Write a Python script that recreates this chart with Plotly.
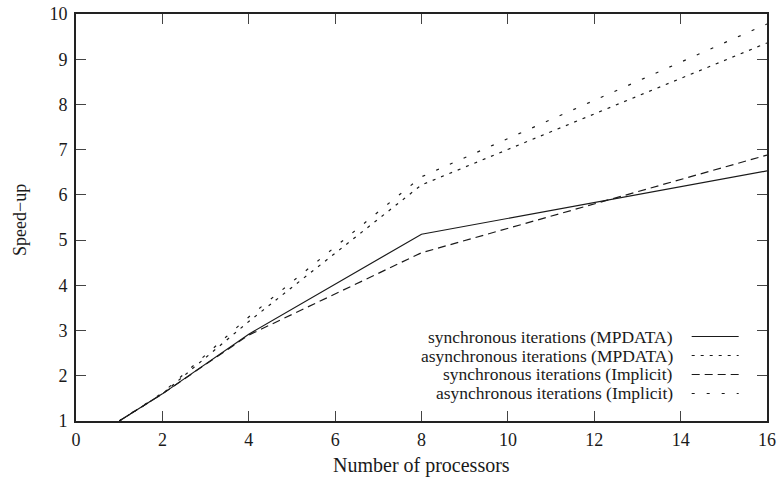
import plotly.graph_objects as go

processors = [1, 2, 4, 8, 16]
sync_mpdata = [1.0, 1.6, 2.92, 5.13, 6.53]
async_mpdata = [1.0, 1.6, 3.2, 6.22, 9.36]
sync_implicit = [1.0, 1.6, 2.9, 4.72, 6.88]
async_implicit = [1.0, 1.62, 3.3, 6.4, 9.78]

labels = [
    "synchronous iterations (MPDATA)",
    "asynchronous iterations (MPDATA)",
    "synchronous iterations (Implicit)",
    "asynchronous iterations (Implicit)",
]
series = [sync_mpdata, async_mpdata, sync_implicit, async_implicit]
dashes = ["solid", "3px,6px", "8px,5px", "3px,12px"]

FONT = "Liberation Serif, Times New Roman, serif"
INK = "#1a1a1a"

fig = go.Figure()
for lab, ys, d in zip(labels, series, dashes):
    fig.add_trace(go.Scatter(x=processors, y=ys, mode="lines", name=lab,
                             line=dict(color=INK, width=1.2, dash=d),
                             showlegend=False))

# manual gnuplot-style key: text right-aligned, sample on the right
rows_y = [0.2076, 0.1609, 0.1143, 0.0676]
for lab, d, ry in zip(labels, dashes, rows_y):
    fig.add_annotation(xref="paper", yref="paper", x=0.867, y=ry, text=lab,
                       showarrow=False, xanchor="right", yanchor="middle",
                       font=dict(family=FONT, size=17.5, color=INK))
    fig.add_shape(type="line", xref="paper", yref="paper",
                  x0=0.891, x1=0.959, y0=ry, y1=ry,
                  line=dict(color=INK, width=1.2, dash=d))

# axis titles
fig.add_annotation(xref="paper", yref="paper", x=0.5, y=-0.11, text="Number of processors",
                   showarrow=False, xanchor="center", yanchor="middle",
                   font=dict(family=FONT, size=20, color=INK))
fig.add_annotation(xref="paper", yref="paper", x=-0.081, y=0.494, text="Speed\u2212up",
                   showarrow=False, xanchor="center", yanchor="middle", textangle=-90,
                   font=dict(family=FONT, size=18, color=INK))

axis_common = dict(showline=True, linecolor="#222", linewidth=1.6, mirror="allticks",
                   ticks="inside", ticklen=10, tickcolor="#444", tickwidth=1.2,
                   showgrid=False, zeroline=False, automargin=False,
                   tickfont=dict(family=FONT, size=18, color=INK))

fig.update_xaxes(range=[0, 16], tickmode="array", tickvals=list(range(0, 17, 2)),
                 ticklabelstandoff=2, **axis_common)
fig.update_yaxes(range=[1, 10], tickmode="array", tickvals=list(range(1, 11)),
                 ticklabelstandoff=3, **axis_common)

fig.update_layout(width=779, height=481, plot_bgcolor="white", paper_bgcolor="white",
                  margin=dict(l=76, r=12, t=14, b=60))
fig.write_html("out.html")
